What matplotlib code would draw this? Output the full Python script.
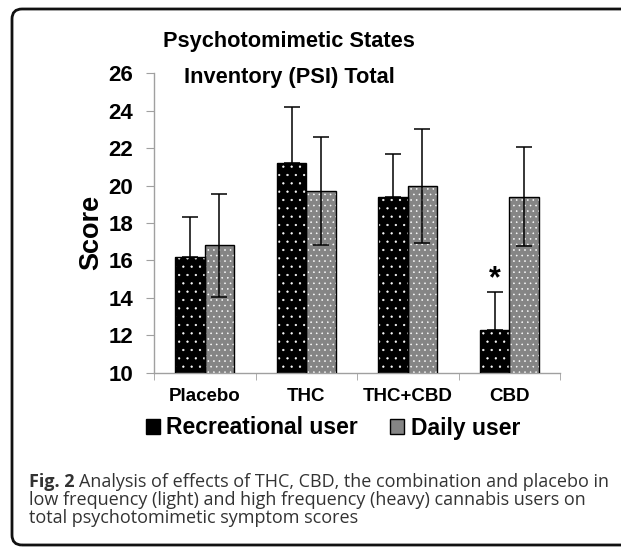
import numpy as np
import matplotlib
matplotlib.use("Agg")
import matplotlib.pyplot as plt
from matplotlib.patches import FancyBboxPatch, Patch

# data
categories = ["Placebo", "THC", "THC+CBD", "CBD"]
recreational = [16.2, 21.2, 19.4, 12.3]
recreational_err = [2.1, 3.0, 2.3, 2.0]
daily = [16.8, 19.7, 20.0, 19.4]
daily_err = [2.75, 2.9, 3.05, 2.65]
yticks = [10, 12, 14, 16, 18, 20, 22, 24, 26]

W, H = 621, 548
plt.rcParams["font.family"] = ["Liberation Sans", "DejaVu Sans"]
plt.rcParams["hatch.linewidth"] = 0.4

fig = plt.figure(figsize=(W / 100, H / 100), dpi=100)
ax = fig.add_axes([154 / W, 1 - 372.7 / H, 406 / W, 299.4 / H])

x = np.arange(len(categories))
bw = 0.29
gray = "#a0a0a0"
rec_face = "black"
daily_face = "#858585"

# recreational: black with white dots
ax.bar(x - bw / 2, recreational, bw, color=rec_face, edgecolor="white",
       hatch="..", linewidth=0, zorder=2)
ax.bar(x - bw / 2, recreational, bw, fill=False, edgecolor="black", linewidth=1, zorder=3)
ax.errorbar(x - bw / 2, recreational, yerr=[np.zeros(4), recreational_err], fmt="none",
            ecolor="black", elinewidth=1.1, capsize=5.5, capthick=1.1, zorder=4)

# daily: gray with white dots
ax.bar(x + bw / 2, daily, bw, color=daily_face, edgecolor="white",
       hatch="...", linewidth=0, zorder=2)
ax.bar(x + bw / 2, daily, bw, fill=False, edgecolor="black", linewidth=1, zorder=3)
ax.errorbar(x + bw / 2, daily, yerr=daily_err, fmt="none",
            ecolor="black", elinewidth=1.1, capsize=5.5, capthick=1.1, zorder=4)

# significance marker
ax.text(x[3] - bw / 2, recreational[3] + recreational_err[3] - 0.1, "*",
        ha="center", va="bottom", fontsize=22, fontweight="bold")

ax.set_ylim(10, 26)
ax.set_xlim(-0.5, 3.5)
ax.set_yticks(yticks)
ax.set_yticklabels([str(t) for t in yticks], fontsize=16, fontweight="bold")
ax.set_xticks(x)
ax.set_xticklabels(categories, fontsize=13.5, fontweight="bold")
ax.set_xticks(np.arange(-0.5, 4, 1), minor=True)
ax.tick_params(axis="x", which="major", length=0, pad=11)
ax.tick_params(axis="x", which="minor", length=5, color=gray, direction="out")
ax.tick_params(axis="y", length=6, color=gray, pad=9)
for s in ["top", "right"]:
    ax.spines[s].set_visible(False)
for s in ["left", "bottom"]:
    ax.spines[s].set_color(gray)
    ax.spines[s].set_linewidth(1)

ax.set_ylabel("Score", fontsize=19.5, fontweight="bold")
ax.yaxis.set_label_coords(-0.123, 0.467)

# title
fig.text(289 / W, 1 - 47 / H, "Psychotomimetic States", ha="center", va="baseline",
         fontsize=15.7, fontweight="bold")
fig.text(289 / W, 1 - 83 / H, "Inventory (PSI) Total", ha="center", va="baseline",
         fontsize=15.7, fontweight="bold")

# legend
handles = [Patch(facecolor=rec_face, edgecolor="black", label="Recreational user"),
           Patch(facecolor=daily_face, edgecolor="black", label="Daily user")]
leg = fig.legend(handles=handles, loc="center", bbox_to_anchor=(333 / W, 1 - 428 / H),
                 ncol=2, frameon=False, handlelength=0.6, handleheight=0.6,
                 handletextpad=0.3, columnspacing=1.4,
                 prop={"size": 16.5, "weight": "bold"})

# caption
cap_font = ["Open Sans", "DejaVu Sans"]
cap_color = "#333333"
cap_size = 13
t = fig.text(29 / W, 1 - 487 / H, "Fig. 2", ha="left", va="baseline", fontsize=cap_size,
             fontweight="bold", family=cap_font, color=cap_color)
fig.canvas.draw()
bb = t.get_window_extent()
fig.text((bb.x1 + 4) / W, 1 - 487 / H,
         "Analysis of effects of THC, CBD, the combination and placebo in",
         ha="left", va="baseline", fontsize=cap_size, family=cap_font, color=cap_color)
fig.text(29 / W, 1 - 505 / H,
         "low frequency (light) and high frequency (heavy) cannabis users on",
         ha="left", va="baseline", fontsize=cap_size, family=cap_font, color=cap_color)
fig.text(29 / W, 1 - 523 / H, "total psychotomimetic symptom scores",
         ha="left", va="baseline", fontsize=cap_size, family=cap_font, color=cap_color)

# rounded frame around the figure, open past the right edge
frame = FancyBboxPatch((0.12, 0.03), 7.0, 5.36, boxstyle="round,pad=0,rounding_size=0.1",
                       transform=fig.dpi_scale_trans, fill=False, edgecolor="#111111",
                       linewidth=2)
fig.patches.append(frame)

fig.savefig("out.png", dpi=100)
